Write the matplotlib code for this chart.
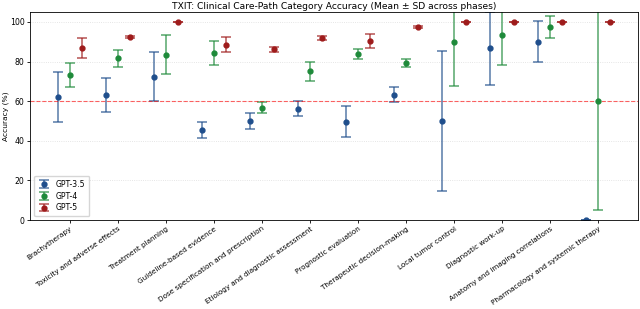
import numpy as np
import matplotlib
matplotlib.use("Agg")
import matplotlib.pyplot as plt

categories = [
    "Brachytherapy",
    "Toxicity and adverse effects",
    "Treatment planning",
    "Guideline-based evidence",
    "Dose specification and prescription",
    "Etiology and diagnostic assessment",
    "Prognostic evaluation",
    "Therapeutic decision-making",
    "Local tumor control",
    "Diagnostic work-up",
    "Anatomy and imaging correlations",
    "Pharmacology and systemic therapy",
]

gpt35_mean = [62.2, 63.0, 72.3, 45.5, 50.2, 56.3, 49.7, 63.2, 50.0, 86.7, 90.0, 0.0]
gpt35_sd = [12.7, 8.5, 12.4, 4.0, 4.0, 3.6, 8.0, 3.8, 35.3, 18.4, 10.3, 0.0]
gpt4_mean = [73.4, 81.7, 83.5, 84.3, 56.6, 75.1, 83.9, 79.4, 90.0, 93.3, 97.5, 60.0]
gpt4_sd = [6.1, 4.2, 10.0, 6.0, 2.8, 4.8, 2.6, 1.9, 22.4, 14.9, 5.5, 54.8]
gpt5_mean = [86.7, 92.3, 100.0, 88.5, 86.1, 92.0, 90.3, 97.5, 100.0, 100.0, 100.0, 100.0]
gpt5_sd = [5.0, 0.5, 0.0, 3.9, 1.5, 1.0, 3.4, 0.7, 0.0, 0.0, 0.0, 0.0]

models = ["GPT-3.5", "GPT-4", "GPT-5"]
colors = ["#1f4e8c", "#1e8a3a", "#9e1b1b"]

x = np.arange(len(categories))
offset = 0.25

fig, ax = plt.subplots(figsize=(6.4, 3.09), dpi=100)
fig.subplots_adjust(left=0.047, right=0.997, top=0.961, bottom=0.288)

series = [(gpt35_mean, gpt35_sd), (gpt4_mean, gpt4_sd), (gpt5_mean, gpt5_sd)]
for i, (means, sds) in enumerate(series):
    eb = ax.errorbar(x + (i - 1) * offset, means, yerr=sds, fmt="o", color=colors[i],
                     ecolor=colors[i], elinewidth=1.1, capsize=3.3, capthick=1.1,
                     markersize=3.5, label=models[i])
    for cap in eb[1]:
        cap.set_alpha(0.75)
    for bar in eb[2]:
        bar.set_alpha(0.75)

ax.axhline(60, color="red", linestyle="--", linewidth=0.8, alpha=0.6)
ax.set_ylim(0, 105)
ax.set_xticks(x)
ax.set_xticklabels(categories, rotation=35, ha="right", rotation_mode="anchor", fontsize=5.25)
ax.tick_params(axis="y", labelsize=5.6)
ax.tick_params(length=2.5, width=0.6, pad=1.5)
ax.set_ylabel("Accuracy (%)", fontsize=5.4, labelpad=0.5)
ax.set_title("TXIT: Clinical Care-Path Category Accuracy (Mean ± SD across phases)", fontsize=6.6, pad=2)
ax.yaxis.grid(True, linestyle=":", linewidth=0.6, color="#dddddd")
ax.set_axisbelow(True)
for s in ax.spines.values():
    s.set_linewidth(0.6)
ax.legend(loc="lower left", fontsize=5.6, handlelength=1.5, borderpad=0.5, labelspacing=0.35)

plt.savefig("out.png", dpi=100)
